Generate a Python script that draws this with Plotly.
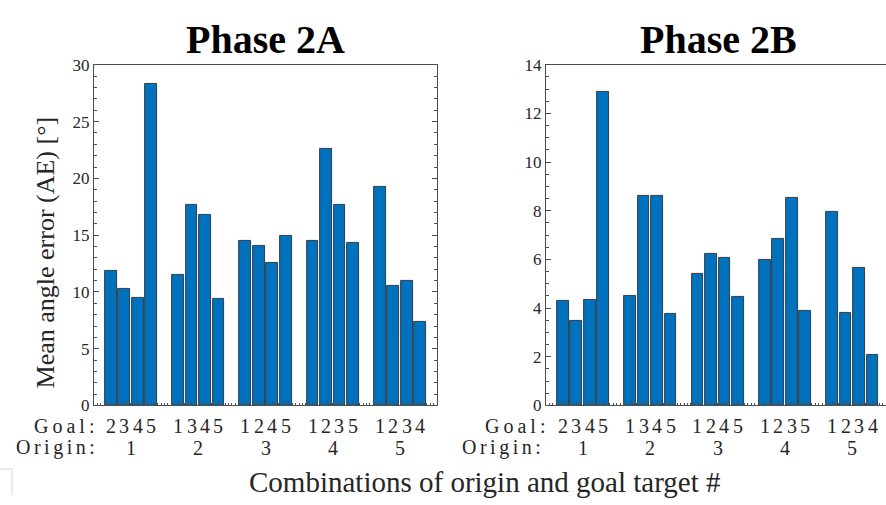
import plotly.graph_objects as go

# Bar slots: four goals per origin, one empty slot between origins
positions = [1, 2, 3, 4, 6, 7, 8, 9, 11, 12, 13, 14, 16, 17, 18, 19, 21, 22, 23, 24]
goal_labels = ["2", "3", "4", "5", "1", "3", "4", "5", "1", "2", "4", "5",
               "1", "2", "3", "5", "1", "2", "3", "4"]
origin_labels = ["1", "2", "3", "4", "5"]
origin_centers = [2.5, 7.5, 12.5, 17.5, 22.5]

# Mean angle error [deg]
phase_2a = [11.9, 10.3, 9.5, 28.3,
            11.5, 17.7, 16.8, 9.4,
            14.5, 14.1, 12.6, 14.9,
            14.5, 22.6, 17.7, 14.3,
            19.3, 10.5, 11.0, 7.4]
phase_2b = [4.3, 3.5, 4.35, 12.9,
            4.5, 8.6, 8.6, 3.75,
            5.4, 6.25, 6.05, 4.45,
            6.0, 6.85, 8.55, 3.9,
            7.95, 3.8, 5.65, 2.1]

W, H = 886, 505
FONT = "Liberation Serif"
INK = "#262626"
AXIS = "#4d4d4d"
BAR = "#0072BD"


def px(x):
    return x / W


def py(y):
    return 1 - y / H


fig = go.Figure()
fig.add_trace(go.Bar(x=positions, y=phase_2a, width=0.87,
                     marker=dict(color=BAR, line=dict(color="#1f1f1f", width=0.8)),
                     xaxis="x", yaxis="y", showlegend=False))
fig.add_trace(go.Bar(x=positions, y=phase_2b, width=0.87,
                     marker=dict(color=BAR, line=dict(color="#1f1f1f", width=0.8)),
                     xaxis="x2", yaxis="y2", showlegend=False))

y_dom = [py(412), py(58)]
tick_font = dict(family=FONT, size=17, color=INK)

xcommon = dict(tickvals=positions, showticklabels=False, ticks="inside", ticklen=4,
               tickcolor=AXIS, showline=True, linecolor=AXIS, linewidth=1,
               mirror=True, showgrid=False, zeroline=False,
               minor=dict(dtick=0.25, ticks="inside", ticklen=2, tickcolor=AXIS))

fig.update_layout(
    width=W, height=H,
    margin=dict(l=0, r=0, t=0, b=0),
    paper_bgcolor="white", plot_bgcolor="white",
    font=dict(family=FONT, color=INK, size=17),
    bargap=0,
    xaxis=dict(domain=[px(94), px(437)], range=[-0.25, 25.25], **xcommon),
    xaxis2=dict(domain=[px(546), 1.0], range=[-0.25, 25.0], anchor="y2", **xcommon),
    yaxis=dict(domain=y_dom, range=[0, 30], tickvals=[0, 5, 10, 15, 20, 25, 30],
               ticks="inside", ticklen=5, tickcolor=AXIS, showline=True,
               linecolor=AXIS, linewidth=1, showgrid=False, zeroline=False,
               mirror="ticks", tickfont=tick_font,
               minor=dict(dtick=1, ticks="inside", ticklen=3, tickcolor=AXIS)),
    yaxis2=dict(domain=y_dom, range=[0, 14], tickvals=list(range(0, 15, 2)),
                anchor="x2", mirror=False,
                ticks="inside", ticklen=5, tickcolor=AXIS, showline=True,
                linecolor=AXIS, linewidth=1, showgrid=False, zeroline=False,
                tickfont=tick_font,
                minor=dict(dtick=0.5, ticks="inside", ticklen=3, tickcolor=AXIS)),
)

ann = []
title_font = dict(family=FONT, size=40, color="black")
ann.append(dict(text="<b>Phase 2A</b>", x=px(265.5), y=py(32), xref="paper", yref="paper",
                showarrow=False, font=title_font, xanchor="center", yanchor="middle"))
ann.append(dict(text="<b>Phase 2B</b>", x=px(718), y=py(32), xref="paper", yref="paper",
                showarrow=False, font=title_font, xanchor="center", yanchor="middle"))

lab_font = dict(family=FONT, size=20, color=INK)
for xa, goal_x, origin_x in (("x", 100, 100), ("x2", 551, 546)):
    for p, g in zip(positions, goal_labels):
        ann.append(dict(text=g, x=p, y=py(433), xref=xa, yref="paper", showarrow=False,
                        font=lab_font, xanchor="center", yanchor="middle"))
    for c, o in zip(origin_centers, origin_labels):
        ann.append(dict(text=o, x=c, y=py(456), xref=xa, yref="paper", showarrow=False,
                        font=lab_font, xanchor="center", yanchor="middle"))
    ann.append(dict(text='<span style="letter-spacing:4px">Goal:</span>', x=px(goal_x),
                    y=py(433), xref="paper", yref="paper", showarrow=False, font=lab_font,
                    xanchor="right", yanchor="middle"))
    ann.append(dict(text='<span style="letter-spacing:3.5px">Origin:</span>', x=px(origin_x),
                    y=py(456), xref="paper", yref="paper", showarrow=False, font=lab_font,
                    xanchor="right", yanchor="middle"))

ann.append(dict(text="Combinations of origin and goal target #", x=px(485), y=py(491),
                xref="paper", yref="paper", showarrow=False,
                font=dict(family=FONT, size=29, color=INK),
                xanchor="center", yanchor="middle"))
ann.append(dict(text="Mean angle error (AE) [°]", x=px(45), y=py(253),
                xref="paper", yref="paper", showarrow=False, textangle=-90,
                font=dict(family=FONT, size=26, color=INK),
                xanchor="center", yanchor="middle"))

fig.update_layout(annotations=ann)

# faint frame corner at the lower left
fig.add_shape(type="line", xref="paper", yref="paper", x0=0, x1=px(12), y0=py(478), y1=py(478),
              line=dict(color="#d6d6d6", width=1))
fig.add_shape(type="line", xref="paper", yref="paper", x0=px(12), x1=px(12), y0=py(478), y1=0,
              line=dict(color="#d6d6d6", width=1))

fig.write_html("out.html")
